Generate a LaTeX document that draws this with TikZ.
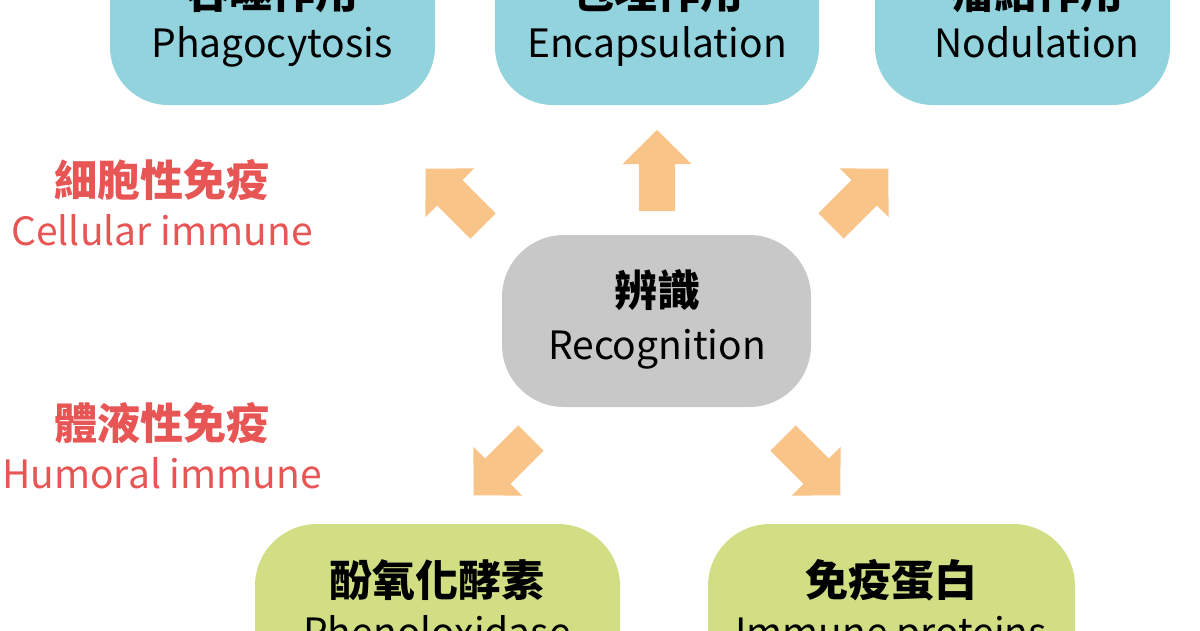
\documentclass[tikz,border=0pt]{standalone}
\usepackage{fontspec}
\setmainfont{Noto Sans CJK TC}
\definecolor{boxblue}{HTML}{92D3DE}
\definecolor{boxgrey}{HTML}{C8C8C8}
\definecolor{boxgreen}{HTML}{D1DE84}
\definecolor{arrowor}{HTML}{F8C488}
\definecolor{redtxt}{HTML}{E85555}
\tikzset{
  zh/.style={font=\fontsize{43}{48}\selectfont\bfseries, text=black, inner sep=0pt},
  en/.style={font=\fontsize{39}{44}\selectfont, text=black, inner sep=0pt, anchor=base},
  redzh/.style={font=\fontsize{43}{48}\selectfont\bfseries, text=redtxt, inner sep=0pt},
  reden/.style={font=\fontsize{39}{44}\selectfont, text=redtxt, inner sep=0pt, anchor=base},
  pics/blockarrow/.style={code={
    \fill[arrowor] (0,-18) -- (47,-18) -- (47,-34.5) -- (81,0) -- (47,34.5) -- (47,18) -- (0,18) -- cycle;}}
}
\begin{document}
\begin{tikzpicture}[x=1pt,y=-1pt]
\useasboundingbox (0,0) rectangle (1200,630);
% top boxes
\fill[boxblue, rounded corners=58pt] (110,-70) rectangle (435,105);
\fill[boxblue, rounded corners=58pt] (495,-70) rectangle (819,105);
\fill[boxblue, rounded corners=58pt] (875,-70) rectangle (1170,105);
\node[zh] (phzh) at (272,-8) {吞噬作用};
\node[en] (phen) at (272,57) {Phagocytosis};
\node[zh] (enzh) at (657,-8) {包埋作用};
\node[en] (enen) at (657,57) {Encapsulation};
\node[zh] (nozh) at (1037,-8) {瘤結作用};
\node[en] (noen) at (1037,57) {Nodulation};
% center
\fill[boxgrey, rounded corners=62pt] (502,235) rectangle (811,407);
\node[zh] (reczh) at (657,290) {辨識};
\node[en] (recen) at (657,359) {Recognition};
% bottom boxes
\fill[boxgreen, rounded corners=62pt] (255,524) rectangle (620,720);
\fill[boxgreen, rounded corners=62pt] (708,524) rectangle (1075,720);
\node[zh] (pozh) at (437,580) {酚氧化酵素};
\node[en] (poen) at (437,646) {Phenoloxidase};
\node[zh] (ipzh) at (891,580) {免疫蛋白};
\node[en] (ipen) at (891,646) {Immune proteins};
% side labels
\node[redzh] (celzh) at (162,180) {細胞性免疫};
\node[reden] (celen) at (162,245) {Cellular immune};
\node[redzh] (humzh) at (162,423) {體液性免疫};
\node[reden] (humen) at (162,488) {Humoral immune};
% arrows
\pic[rotate=90] at (657,211) {blockarrow};
\pic[rotate=135] at (483,226) {blockarrow};
\pic[rotate=45] at (831,226) {blockarrow};
\pic[rotate=-135] at (531,438) {blockarrow};
\pic[rotate=-45] at (783,438) {blockarrow};
\end{tikzpicture}
\end{document}
